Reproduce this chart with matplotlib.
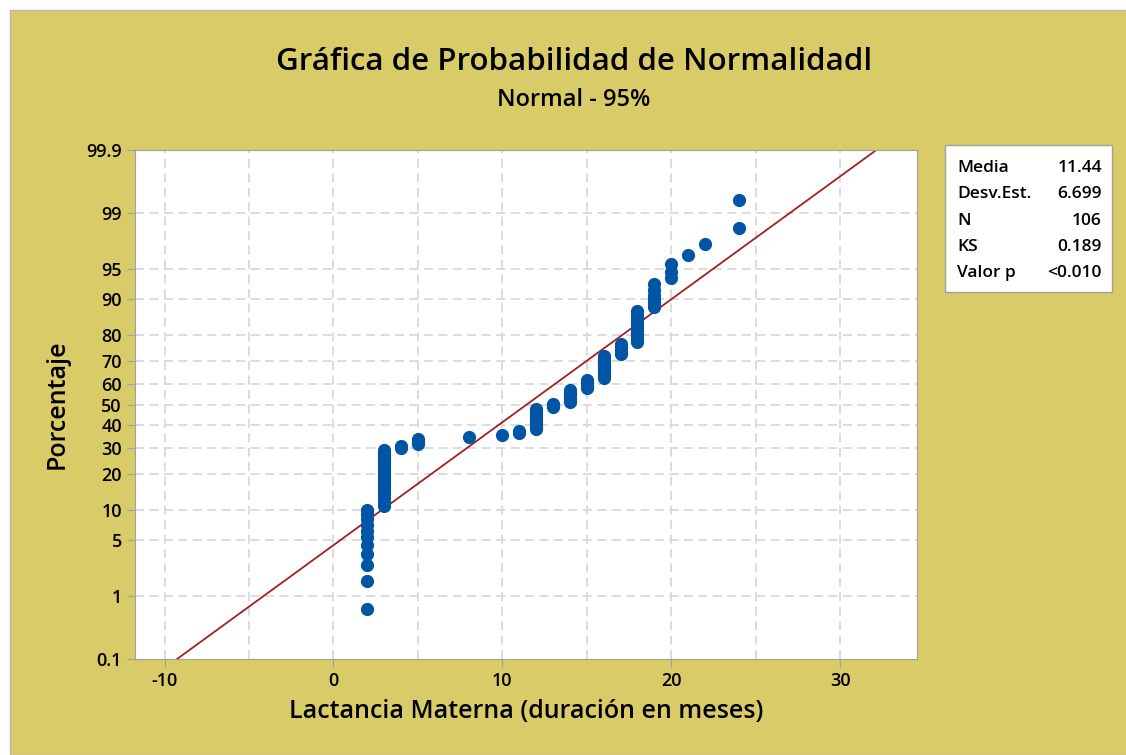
import numpy as np
import matplotlib
matplotlib.use("Agg")
import matplotlib.pyplot as plt
from matplotlib.patches import Rectangle
from statistics import NormalDist

# observed durations (months) and how many mothers at each value
values = [2, 3, 4, 5, 8, 10, 11, 12, 13, 14, 15, 16, 17, 18, 19, 20, 21, 22, 24]
counts = [11, 20, 2, 3, 1, 1, 2, 11, 3, 7, 5, 11, 5, 11, 6, 3, 1, 1, 2]

pct_ticks = [0.1, 1, 5, 10, 20, 30, 40, 50, 60, 70, 80, 90, 95, 99, 99.9]
pct_labels = ["0.1", "1", "5", "10", "20", "30", "40", "50", "60", "70", "80", "90", "95", "99", "99.9"]
x_ticks = [-10, 0, 10, 20, 30]

ks_text = "0.189"
p_text = "<0.010"

plt.rcParams["font.family"] = ["Open Sans", "DejaVu Sans"]
plt.rcParams["axes.unicode_minus"] = False

nd = NormalDist()
data = np.sort(np.repeat(values, counts)).astype(float)
n = len(data)
mean = data.mean()
sd = data.std(ddof=1)
ranks = np.arange(1, n + 1)
probs = (ranks - 0.3) / (n + 0.4)
z = np.array([nd.inv_cdf(p) for p in probs])

bg = "#D9CB68"
fig = plt.figure(figsize=(11.26, 7.55), dpi=100, facecolor="white")
fig.patches.append(Rectangle((10 / 1126, 0), 1, 745 / 755, transform=fig.transFigure,
                             facecolor=bg, edgecolor="#B8B8B8", lw=1, zorder=-1))

ax = fig.add_axes([135 / 1126, 1 - 659 / 755, 782 / 1126, 509 / 755])
ax.set_facecolor("white")

# fitted normal line
zl = np.array([nd.inv_cdf(0.0005), nd.inv_cdf(0.9995)])
ax.plot(mean + sd * zl, zl, color="#A3201E", lw=1.3, zorder=2)
ax.plot(data, z, "o", color="#0055A5", markersize=9.5, markeredgewidth=0, zorder=3)

zmin, zmax = nd.inv_cdf(0.001), nd.inv_cdf(0.999)
ax.set_ylim(zmin, zmax)
ax.set_xlim(-11.75, 34.55)
ax.set_yticks([nd.inv_cdf(p / 100) for p in pct_ticks])
ax.set_yticklabels(pct_labels)
ax.set_xticks(x_ticks)
ax.set_xticks(np.arange(-10, 35, 5), minor=True)

for t in ax.get_yticks()[1:-1]:
    ax.axhline(t, color="#D9D9D9", lw=1.3, ls=(0, (5, 3)), zorder=1)
for t in np.arange(-10, 35, 5):
    ax.axvline(t, color="#D9D9D9", lw=1.3, ls=(0, (5, 3)), zorder=1)

for s in ax.spines.values():
    s.set_color("#A0A0A0")
ax.tick_params(axis="both", which="major", colors="#A0A0A0", length=6, labelcolor="black", labelsize=13)
ax.tick_params(axis="x", which="minor", length=0)
for lbl in ax.get_xticklabels() + ax.get_yticklabels():
    lbl.set_fontweight("semibold")

ax.set_xlabel("Lactancia Materna (duración en meses)", fontsize=18, fontweight="semibold", labelpad=6)
ax.set_ylabel("Porcentaje", fontsize=18, fontweight="semibold", labelpad=12)

fig.text(574 / 1126, 1 - 62 / 755, "Gráfica de Probabilidad de Normalidadl", ha="center", va="center",
         fontsize=22.5, fontweight="semibold")
fig.text(574 / 1126, 1 - 100 / 755, "Normal - 95%", ha="center", va="center", fontsize=17, fontweight="semibold")

# statistics box
fig.patches.append(Rectangle((945 / 1126, 1 - 292 / 755), 167 / 1126, 147 / 755, transform=fig.transFigure,
                             facecolor="white", edgecolor="#A0A0A0", lw=1))
rows = [("Media", f"{mean:.2f}"), ("Desv.Est.", f"{sd:.3f}"), ("N", str(n)), ("KS", ks_text), ("Valor p", p_text)]
for i, (lab, val) in enumerate(rows):
    y = 1 - (168 + i * 26.3) / 755
    fig.text(957 / 1126, y, lab, ha="left", va="center", fontsize=12.5, fontweight="semibold")
    fig.text(1102 / 1126, y, val, ha="right", va="center", fontsize=12.5, fontweight="semibold")

fig.savefig("out.png", dpi=100, facecolor=fig.get_facecolor())
